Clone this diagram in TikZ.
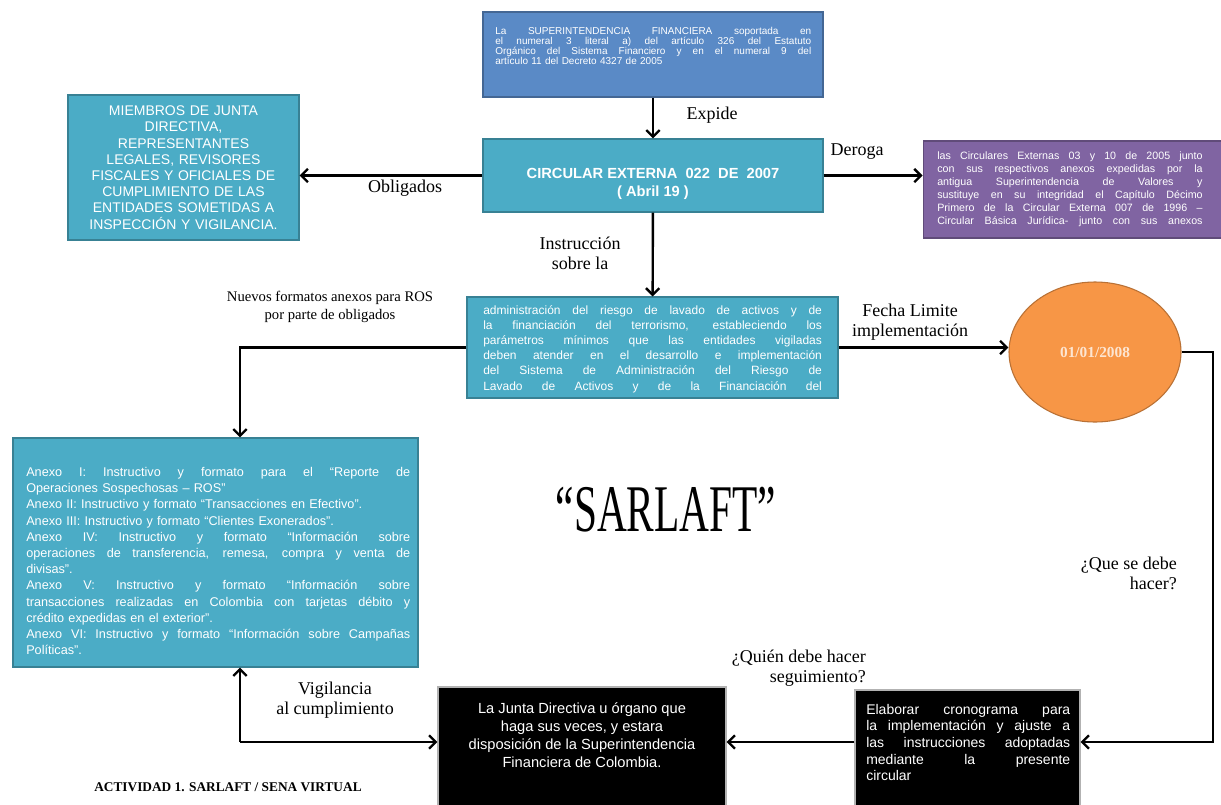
\documentclass[tikz,border=0pt]{standalone}
\usepackage{fontspec}
\usepackage{graphicx}
\setmainfont{Liberation Serif}
\setsansfont{Liberation Sans}
\usetikzlibrary{arrows.meta,shapes.geometric}
\definecolor{cBlue}{RGB}{90,138,198}
\definecolor{cAqua}{RGB}{75,172,198}
\definecolor{cPurple}{RGB}{128,100,162}
\definecolor{cOrange}{RGB}{247,150,70}
\setlength{\parindent}{0pt}
\newcommand{\jline}[1]{\hbox to\hsize{\spaceskip=0.3em plus 1fil\relax #1}\par}
\newcommand{\lline}[1]{\hbox{#1}\par}
\begin{document}
\begin{tikzpicture}[x=0.75pt,y=-0.75pt,
    box/.style={draw=#1!75!black, fill=#1, line width=0.8pt, inner sep=0pt},
    txt/.style={text=white, inner sep=0pt, anchor=north west, font=\sffamily#1},
    lbl/.style={inner sep=0pt, align=center, font=\fontsize{13.5}{15}\selectfont},
    arr/.style={line width=1.8pt, -{Straight Barb[length=5pt,width=10pt]}}]
    \clip (0,0) rectangle (1221,804);
    \fill[white] (0,0) rectangle (1221,804);
    % cajas
    \node[box=cBlue, minimum width=255pt, minimum height=63.75pt] (sup) at (653,54.5) {};
    \node[txt={\fontsize{7.5}{7.5}\selectfont}, text width=237pt] (sup-t) at (495,27) {%
        \jline{La SUPERINTENDENCIA FINANCIERA soportada en}
        \jline{el numeral 3 literal a) del artículo 326 del Estatuto}
        \jline{Orgánico del Sistema Financiero y en el numeral 9 del}
        \lline{artículo 11 del Decreto 4327 de 2005}};
    \node[box=cAqua, minimum width=255pt, minimum height=54.75pt] (circ) at (653,175.5) {};
    \node[txt={\bfseries\fontsize{11}{13.5}\selectfont}, anchor=center, align=center] (circ-t) at (653,184)
        {CIRCULAR EXTERNA~~022~~DE~~2007\\( Abril 19 )};
    \node[box=cAqua, minimum width=173.25pt, minimum height=108.75pt, text=white, text width=168pt,
        align=center, font=\sffamily\fontsize{10.5}{12.15}\selectfont] (miem) at (183.5,167.5)
        {MIEMBROS DE JUNTA\\DIRECTIVA,\\REPRESENTANTES\\LEGALES, REVISORES\\FISCALES Y OFICIALES DE\\
         CUMPLIMIENTO DE LAS\\ENTIDADES SOMETIDAS A\\INSPECCIÓN Y VIGILANCIA.};
    \node[box=cPurple, minimum width=230pt, minimum height=72.75pt] (purp) at (1076.5,189.5) {};
    \node[txt={\fontsize{8}{9.75}\selectfont}, text width=199pt] (purp-t) at (937,151) {%
        \jline{las Circulares Externas 03 y 10 de 2005 junto}
        \jline{con sus respectivos anexos expedidas por la}
        \jline{antigua Superintendencia de Valores y}
        \jline{sustituye en su integridad el Capítulo Décimo}
        \jline{Primero de la Circular Externa 007 de 1996 –}
        \jline{Circular Básica Jurídica- junto con sus anexos}};
    \node[box=cAqua, minimum width=278.25pt, minimum height=75.75pt] (admin) at (652.5,347.5) {};
    \node[txt={\fontsize{9}{11.4}\selectfont}, text width=254pt] (admin-t) at (483,305) {%
        \jline{administración del riesgo de lavado de activos y de}
        \jline{la financiación del terrorismo, estableciendo los}
        \jline{parámetros mínimos que las entidades vigiladas}
        \jline{deben atender en el desarrollo e implementación}
        \jline{del Sistema de Administración del Riesgo de}
        \jline{Lavado de Activos y de la Financiación del}};
    \node[ellipse, draw=cOrange!75!black, fill=cOrange, line width=0.8pt, minimum width=129pt,
        minimum height=105pt, text=cOrange!25!white, font=\bfseries\fontsize{11.5}{12}\selectfont] (fecha) at (1095,352) {01/01/2008};
    \node[box=cAqua, minimum width=303.75pt, minimum height=171.75pt] (anexo) at (215.5,552.5) {};
    \node[txt={\fontsize{9.5}{12.15}\selectfont}, text width=288pt] (anexo-t) at (26,467) {%
        \jline{Anexo I: Instructivo y formato para el “Reporte de}
        \lline{Operaciones Sospechosas – ROS”}
        \lline{Anexo II: Instructivo y formato “Transacciones en Efectivo”.}
        \lline{Anexo III: Instructivo y formato “Clientes Exonerados”.}
        \jline{Anexo IV: Instructivo y formato “Información sobre}
        \jline{operaciones de transferencia, remesa, compra y venta de}
        \lline{divisas”.}
        \jline{Anexo V: Instructivo y formato “Información sobre}
        \jline{transacciones realizadas en Colombia con tarjetas débito y}
        \lline{crédito expedidas en el exterior”.}
        \jline{Anexo VI: Instructivo y formato “Información sobre Campañas}
        \lline{Políticas”.}};
    \node[box=black, draw=gray!60, minimum width=216pt, minimum height=96pt] (junta) at (582,751) {};
    \node[txt={\fontsize{11}{13.7}\selectfont}, anchor=north, align=center] (junta-t) at (582,702)
        {La Junta Directiva u órgano que\\haga sus veces, y estara\\disposición de la Superintendencia\\Financiera de Colombia.};
    \node[box=black, draw=gray!60, minimum width=168.75pt, minimum height=93.75pt] (elab) at (967.5,752.5) {};
    \node[txt={\fontsize{10.5}{12.4}\selectfont}, text width=153pt] (elab-t) at (866,704) {%
        \jline{Elaborar cronograma para}
        \jline{la implementación y ajuste a}
        \jline{las instrucciones adoptadas}
        \jline{mediante la presente}
        \lline{circular}};
    % conectores
    \coordinate (vig) at (240,742);
    \coordinate (hacer) at (1213,742);
    \draw[arr] (sup) -- (circ);
    \draw[arr] (circ.west) -- (circ.west -| miem.east);
    \draw[arr] (circ.east) -- (circ.east -| purp.west);
    \draw[arr] (circ) -- (admin);
    \draw[arr] (admin.west) -| (vig |- anexo.north);
    \draw[arr] (admin.east) -- (admin.east -| fecha.west);
    \draw[arr] (fecha.east) -| (hacer) -- (hacer -| elab.east);
    \draw[arr] (vig -| elab.west) -- (vig -| junta.east);
    \draw[arr] (vig) -- (vig |- anexo.south);
    \draw[arr] (vig) -- (vig -| junta.west);
    % textos
    \node[lbl] (expide) at (712,115) {Expide};
    \node[lbl] (deroga) at (857,152) {Deroga};
    \node[lbl] (oblig) at (405,188) {Obligados};
    \node[lbl] (instr) at (580,253) {Instrucción\\sobre la};
    \node[lbl, font=\fontsize{11}{13.5}\selectfont] (nuevos) at (330,307) {Nuevos formatos anexos para ROS\\por parte de obligados};
    \node[lbl] (limite) at (910,322) {Fecha Limite\\implementación};
    \node[lbl, align=right, anchor=east] (debe) at (1177,573) {¿Que se debe\\hacer?};
    \node[lbl, align=right, anchor=east] (quien) at (866,668) {¿Quién debe hacer\\seguimiento?};
    \node[lbl] (vigil) at (335,700) {Vigilancia\\al cumplimiento};
    \node[inner sep=0pt, font=\fontsize{50}{50}\selectfont] (sarlaft) at (666,510) {\scalebox{0.62}[1]{“SARLAFT”}};
    \node[inner sep=0pt, font=\bfseries\fontsize{10}{10}\selectfont] (activ) at (228,787) {ACTIVIDAD 1. SARLAFT / SENA VIRTUAL};
\end{tikzpicture}
\end{document}
